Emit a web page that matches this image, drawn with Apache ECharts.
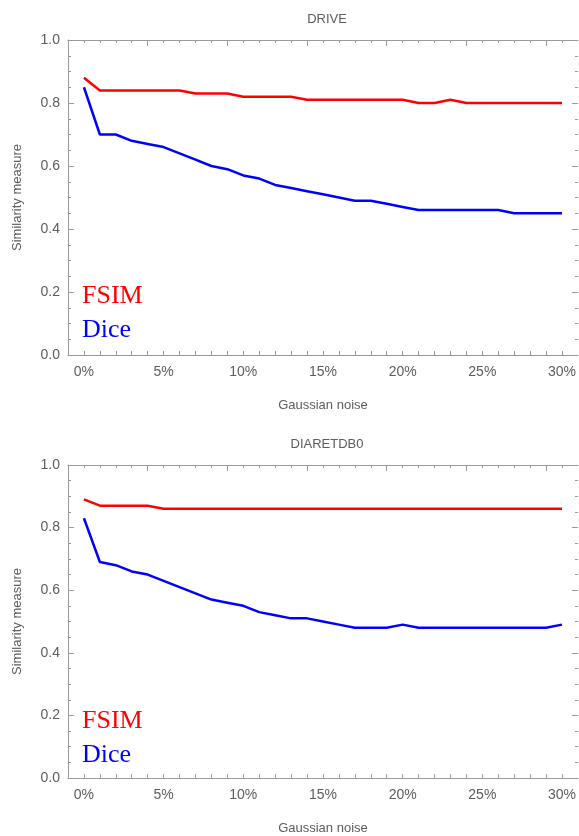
<!DOCTYPE html>
<html>
<head>
<meta charset="utf-8">
<script src="https://cdn.jsdelivr.net/npm/echarts@6/dist/echarts.min.js"></script>
<style>
  html, body { margin: 0; padding: 0; background: #fff; }
  #main { width: 579px; height: 836px; }
</style>
</head>
<body>
<div id="main"></div>
<script>
// noise level in percent
var noise = [0,1,2,3,4,5,6,7,8,9,10,11,12,13,14,15,16,17,18,19,20,21,22,23,24,25,26,27,28,29,30];

// DRIVE
var driveFsim = [0.88,0.84,0.84,0.84,0.84,0.84,0.84,0.83,0.83,0.83,0.82,0.82,0.82,0.82,0.81,0.81,0.81,0.81,0.81,0.81,0.81,0.80,0.80,0.81,0.80,0.80,0.80,0.80,0.80,0.80,0.80];
var driveDice = [0.85,0.70,0.70,0.68,0.67,0.66,0.64,0.62,0.60,0.59,0.57,0.56,0.54,0.53,0.52,0.51,0.50,0.49,0.49,0.48,0.47,0.46,0.46,0.46,0.46,0.46,0.46,0.45,0.45,0.45,0.45];

// DIARETDB0
var diaFsim = [0.89,0.87,0.87,0.87,0.87,0.86,0.86,0.86,0.86,0.86,0.86,0.86,0.86,0.86,0.86,0.86,0.86,0.86,0.86,0.86,0.86,0.86,0.86,0.86,0.86,0.86,0.86,0.86,0.86,0.86,0.86];
var diaDice = [0.83,0.69,0.68,0.66,0.65,0.63,0.61,0.59,0.57,0.56,0.55,0.53,0.52,0.51,0.51,0.50,0.49,0.48,0.48,0.48,0.49,0.48,0.48,0.48,0.48,0.48,0.48,0.48,0.48,0.48,0.49];

var panelTitles = ['DRIVE', 'DIARETDB0'];
var xLabelTicks = [0, 5, 10, 15, 20, 25, 30];
var topMajorTicks = [4, 9, 14, 19, 24, 29];

var frameColor = '#9a9a9a';
var textColor = '#5c5c5c';
var fontName = 'Liberation Sans';

function pairs(xs, ys) {
    return xs.map(function (x, i) { return [x, ys[i]]; });
}

var gridTops = [40, 465];
var grids = [], xAxes = [], yAxes = [], series = [], titles = [], graphics = [];

gridTops.forEach(function (top, g) {
    grids.push({left: 68, top: top, width: 510, height: 315});
    titles.push({
        text: panelTitles[g], left: 322, top: top - 32, textAlign: 'center',
        textStyle: {fontFamily: fontName, fontSize: 13, fontWeight: 'normal', color: textColor}
    });
    // bottom axis with labels
    xAxes.push({
        type: 'value', gridIndex: g, min: -1, max: 31, position: 'bottom',
        name: 'Gaussian noise', nameLocation: 'middle', nameGap: 44,
        nameTextStyle: {fontFamily: fontName, fontSize: 13, color: textColor},
        axisLine: {show: true, onZero: false, lineStyle: {color: frameColor, width: 1}},
        axisTick: {show: true, inside: true, length: 4, customValues: noise, lineStyle: {color: frameColor}},
        axisLabel: {customValues: xLabelTicks, formatter: '{value}%', margin: 10,
            fontFamily: fontName, fontSize: 14, color: textColor},
        splitLine: {show: false}
    });
    // top frame, minor ticks
    xAxes.push({
        type: 'value', gridIndex: g, min: -1, max: 31, position: 'top',
        axisLine: {show: true, onZero: false, lineStyle: {color: frameColor, width: 1}},
        axisTick: {show: true, inside: true, length: 3, customValues: noise, lineStyle: {color: frameColor}},
        axisLabel: {show: false}, splitLine: {show: false}
    });
    // top frame, major ticks
    xAxes.push({
        type: 'value', gridIndex: g, min: -1, max: 31, position: 'top',
        axisLine: {show: false, onZero: false},
        axisTick: {show: true, inside: true, length: 6, customValues: topMajorTicks, lineStyle: {color: frameColor}},
        axisLabel: {show: false}, splitLine: {show: false}
    });
    yAxes.push({
        type: 'value', gridIndex: g, min: 0, max: 1, interval: 0.2, position: 'left',
        name: 'Similarity measure', nameLocation: 'middle', nameGap: 44, nameRotate: 90,
        nameTextStyle: {fontFamily: fontName, fontSize: 13, color: textColor},
        axisLine: {show: true, onZero: false, lineStyle: {color: frameColor, width: 1}},
        axisTick: {show: true, inside: true, length: 6, lineStyle: {color: frameColor}},
        minorTick: {show: true, splitNumber: 4, length: 3, lineStyle: {color: frameColor}},
        axisLabel: {formatter: function (v) { return v.toFixed(1); }, margin: 8,
            fontFamily: fontName, fontSize: 14, color: textColor},
        splitLine: {show: false}
    });
    yAxes.push({
        type: 'value', gridIndex: g, min: 0, max: 1, interval: 0.2, position: 'right',
        axisLine: {show: false, onZero: false},
        axisTick: {show: true, inside: true, length: 6, lineStyle: {color: frameColor}},
        minorTick: {show: true, splitNumber: 4, length: 3, lineStyle: {color: frameColor}},
        axisLabel: {show: false}, splitLine: {show: false}
    });
    graphics.push({
        type: 'text', left: 82, top: top + 243,
        style: {text: 'FSIM', fill: '#ff0000', font: '26px "Liberation Serif"'}
    });
    graphics.push({
        type: 'text', left: 82, top: top + 277,
        style: {text: 'Dice', fill: '#0000ff', font: '26px "Liberation Serif"'}
    });
});

var panelData = [[driveFsim, driveDice], [diaFsim, diaDice]];
panelData.forEach(function (pd, g) {
    series.push({
        name: 'FSIM', type: 'line', xAxisIndex: g * 3, yAxisIndex: g * 2,
        data: pairs(noise, pd[0]), showSymbol: false,
        lineStyle: {color: '#ff0000', width: 2.5}, itemStyle: {color: '#ff0000'}
    });
    series.push({
        name: 'Dice', type: 'line', xAxisIndex: g * 3, yAxisIndex: g * 2,
        data: pairs(noise, pd[1]), showSymbol: false,
        lineStyle: {color: '#0000ff', width: 2.5}, itemStyle: {color: '#0000ff'}
    });
});

var chart = echarts.init(document.getElementById('main'));
chart.setOption({
    animation: false,
    backgroundColor: '#fff',
    title: titles,
    grid: grids,
    xAxis: xAxes,
    yAxis: yAxes,
    series: series,
    graphic: graphics
});
</script>
</body>
</html>
